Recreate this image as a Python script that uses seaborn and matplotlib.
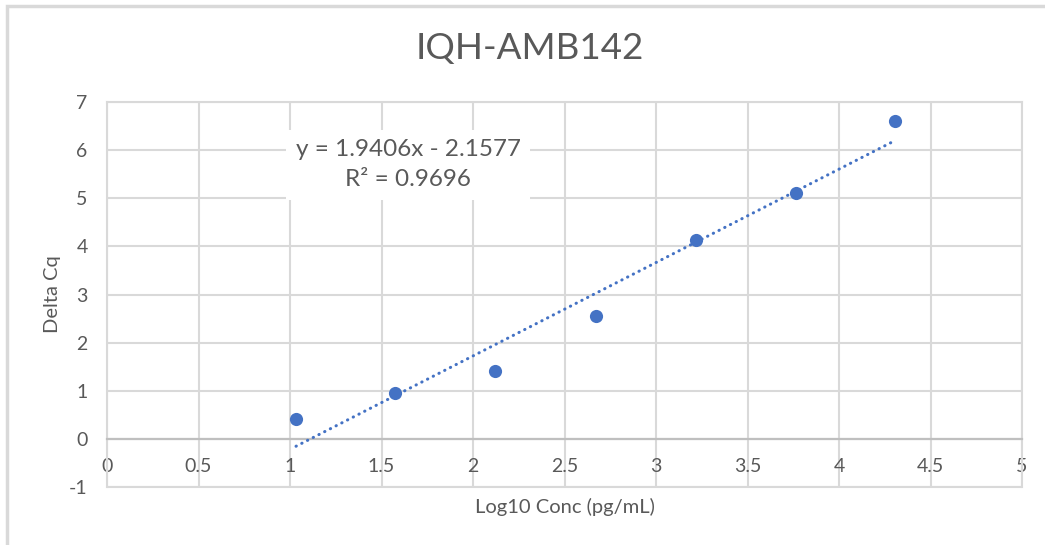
import numpy as np
import pandas as pd
import matplotlib
matplotlib.use("Agg")
import matplotlib.pyplot as plt
import seaborn as sns
from matplotlib.patches import Rectangle

# ---- data ----
log_conc = [1.033, 1.574, 2.120, 2.672, 3.219, 3.765, 4.306]
delta_cq = [0.41, 0.95, 1.41, 2.56, 4.14, 5.11, 6.61]
slope = 1.9406
intercept = -2.1577
r_squared = 0.9696
title = "IQH-AMB142"
x_label = "Log10 Conc (pg/mL)"
y_label = "Delta Cq"
x_ticks = [0, 0.5, 1, 1.5, 2, 2.5, 3, 3.5, 4, 4.5, 5]
x_tick_labels = ["0", "0.5", "1", "1.5", "2", "2.5", "3", "3.5", "4", "4.5", "5"]
y_ticks = [-1, 0, 1, 2, 3, 4, 5, 6, 7]
y_tick_labels = ["-1", "0", "1", "2", "3", "4", "5", "6", "7"]

df = pd.DataFrame({"x": log_conc, "y": delta_cq})

sns.set_theme(style="white")
plt.rcParams["font.family"] = ["Lato", "DejaVu Sans"]

blue = "#4472C4"
grid_c = "#d9d9d9"
text_c = "#595959"

fig = plt.figure(figsize=(10.45, 5.45), dpi=100)
ax = fig.add_axes([107 / 1045, 1 - 487 / 545, 915 / 1045, 385 / 545])

# trendline over data range
xs = np.array([min(log_conc), max(log_conc)])
trend = pd.DataFrame({"x": xs, "y": slope * xs + intercept})
sns.lineplot(data=trend, x="x", y="y", ax=ax, color=blue, lw=2.2,
             dashes=False, zorder=3)
ax.lines[-1].set_linestyle((0, (0.1, 2.0)))
ax.lines[-1].set_dash_capstyle("round")

sns.scatterplot(data=df, x="x", y="y", ax=ax, color=blue, s=90,
                edgecolor=blue, linewidth=0, zorder=4)

ax.set_xlim(0, 5)
ax.set_ylim(-1, 7)
ax.set_xticks(x_ticks)
ax.set_xticklabels(x_tick_labels)
ax.set_yticks(y_ticks)
ax.set_yticklabels(y_tick_labels)

ax.grid(True, color=grid_c, lw=1.5, zorder=0)
ax.set_axisbelow(True)
for s in ["top", "right", "left"]:
    ax.spines[s].set_color(grid_c)
    ax.spines[s].set_linewidth(1.5)
ax.spines["bottom"].set_position(("data", 0))
ax.spines["bottom"].set_color("#bfbfbf")
ax.spines["bottom"].set_linewidth(1.6)
ax.axhline(-1, color=grid_c, lw=1.5, clip_on=False, zorder=0)

ax.tick_params(axis="x", length=0, pad=14, labelsize=14, labelcolor=text_c)
ax.tick_params(axis="y", length=0, pad=14, labelsize=14, labelcolor=text_c)

ax.set_xlabel(x_label, fontsize=14.5, color=text_c)
ax.xaxis.label.set_va("center")
ax.xaxis.set_label_coords(0.5, -0.052)
ax.set_ylabel(y_label, fontsize=14.5, color=text_c)
ax.yaxis.label.set_va("center")
ax.yaxis.set_label_coords(-0.060, 0.5)

ax.text(1.645, 5.70, f"y = {slope}x - {abs(intercept)}\nR\u00b2 = {r_squared}",
        ha="center", va="center", fontsize=17.5, color=text_c,
        linespacing=1.5, zorder=5,
        bbox=dict(facecolor="white", edgecolor="none", pad=7))

fig.text(0.507, 1 - 48 / 545, title, ha="center", va="center",
         fontsize=26.5, color=text_c)

fig.patches.append(Rectangle((7 / 1045, -0.1), 1.2, 1 - 6 / 545 + 0.1,
                             transform=fig.transFigure, fill=False,
                             edgecolor=grid_c, lw=2.5))

fig.savefig("out.png", dpi=100, facecolor="white")
